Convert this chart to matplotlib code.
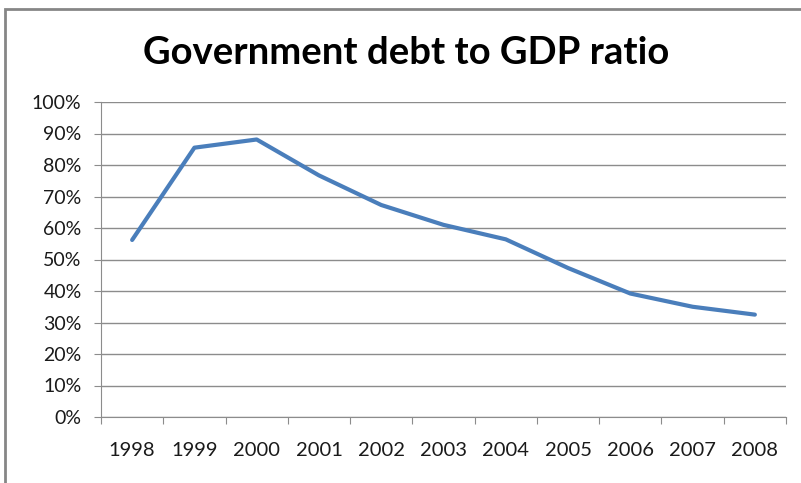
import matplotlib
matplotlib.use("Agg")
import matplotlib.pyplot as plt
from matplotlib.patches import Rectangle
from matplotlib.ticker import FuncFormatter

years = ['1998', '1999', '2000', '2001', '2002', '2003',
         '2004', '2005', '2006', '2007', '2008']
debt_ratio = [0.562, 0.855, 0.881, 0.767, 0.673, 0.610,
              0.564, 0.473, 0.392, 0.350, 0.325]

plt.rcParams['font.family'] = ['Lato', 'DejaVu Sans']

fig = plt.figure(figsize=(8.01, 4.83), dpi=100)
ax = fig.add_axes([101/801, 1-417/483, 685/801, 315/483])

x = [i + 0.5 for i in range(len(years))]
ax.plot(x, debt_ratio, color='#4A7EBB', lw=3, solid_capstyle='round',
        solid_joinstyle='round', zorder=3)

ax.set_xlim(0, len(years))
ax.set_ylim(0, 1)
ax.set_yticks([i / 10 for i in range(11)])
ax.yaxis.set_major_formatter(FuncFormatter(lambda v, p: '%d%%' % round(v * 100)))
ax.grid(axis='y', color='#8c8c8c', lw=1)
ax.set_axisbelow(True)

ax.set_xticks(range(len(years) + 1))
ax.set_xticklabels([])
ax.set_xticks(x, minor=True)
ax.set_xticklabels(years, minor=True)
ax.tick_params(axis='x', which='major', length=5, color='#8c8c8c')
ax.tick_params(axis='x', which='minor', length=0, pad=18, labelsize=14.5,
               labelcolor='#1a1a1a')
ax.tick_params(axis='y', length=5, color='#8c8c8c', pad=9, labelsize=14,
               labelcolor='#1a1a1a')

for s in ['top', 'right']:
    ax.spines[s].set_visible(False)
for s in ['left', 'bottom']:
    ax.spines[s].set_color('#8c8c8c')

fig.text(406/801, 1-53/483, 'Government debt to GDP ratio', ha='center',
         va='center', fontsize=27.5, fontweight='bold')

fig.patches.append(Rectangle((5/801, -0.1), 1.1, 1.1-9/483, transform=fig.transFigure,
                             fill=False, edgecolor='#868686', lw=2))

fig.savefig('out.png', dpi=100)
